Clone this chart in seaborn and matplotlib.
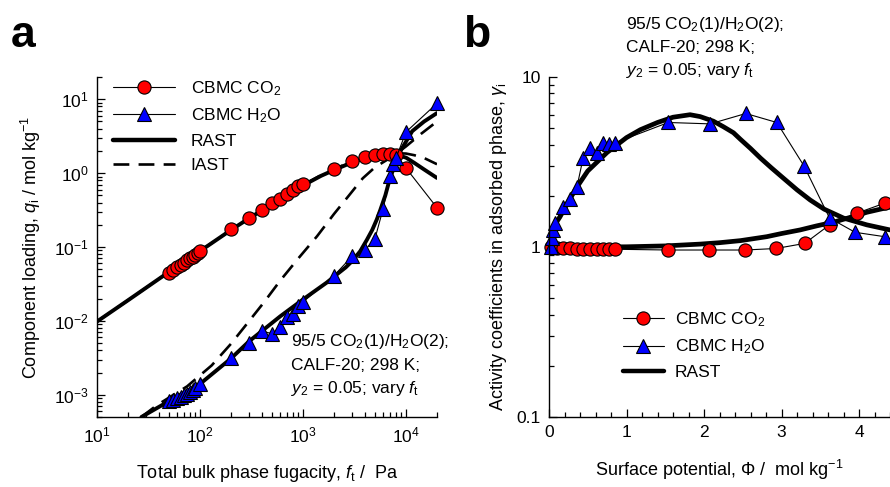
import numpy as np
import pandas as pd
import matplotlib
matplotlib.use("Agg")
import matplotlib.pyplot as plt
from matplotlib.lines import Line2D
from matplotlib.ticker import LogLocator, MultipleLocator, FixedLocator, FixedFormatter, NullFormatter
import seaborn as sns

# ---------------- Panel a data ----------------
co2_f = [50, 55, 60, 65, 70, 75, 80, 85, 90, 95, 100, 200, 300, 400, 500, 600, 700, 800, 900, 1000,
         2000, 3000, 4000, 5000, 6000, 7000, 8000, 10000, 20000]
co2_q = [0.045, 0.049, 0.053, 0.057, 0.061, 0.066, 0.070, 0.074, 0.078, 0.082, 0.087, 0.175, 0.245,
         0.32, 0.39, 0.44, 0.52, 0.59, 0.66, 0.71, 1.13, 1.45, 1.65, 1.75, 1.8, 1.8, 1.75, 1.17, 0.34]

h2o_f = [50, 55, 60, 65, 70, 75, 80, 85, 90, 100, 200, 300, 400, 500, 600, 700, 800, 900, 1000,
         2000, 3000, 4000, 5000, 6000, 7000, 7500, 8000, 10000, 20000]
h2o_q = [0.00082, 0.00086, 0.00090, 0.00094, 0.00098, 0.00103, 0.00110, 0.00116, 0.00122, 0.0014,
         0.0031, 0.005, 0.0073, 0.0067, 0.0083, 0.0113, 0.0125, 0.016, 0.018, 0.041, 0.075, 0.091,
         0.13, 0.33, 0.91, 1.32, 1.6, 3.6, 8.8]

rast_co2_f = [10, 20, 50, 100, 200, 300, 500, 700, 1000, 1500, 2000, 3000, 4000, 5000, 6000, 7000,
              8000, 10000, 12000, 15000, 20000]
rast_co2_q = [0.0098, 0.019, 0.046, 0.088, 0.17, 0.245, 0.38, 0.5, 0.68, 0.92, 1.1, 1.4, 1.6, 1.72,
              1.78, 1.8, 1.78, 1.62, 1.38, 1.12, 0.86]
iast_co2_f = [10, 20, 50, 100, 200, 300, 500, 700, 1000, 1500, 2000, 3000, 4000, 5000, 6000, 7000,
              8000, 10000, 12000, 15000, 20000]
iast_co2_q = [0.0098, 0.019, 0.046, 0.088, 0.17, 0.245, 0.38, 0.5, 0.69, 0.94, 1.13, 1.45, 1.65,
              1.76, 1.82, 1.85, 1.86, 1.84, 1.75, 1.6, 1.32]

rast_h2o_f = [27, 50, 100, 200, 300, 600, 1000, 1700, 2150, 2600, 3050, 3600, 4170, 4700, 5200,
              5600, 6300, 7000, 8800, 11500, 15000, 20000]
rast_h2o_q = [0.0005, 0.00082, 0.0014, 0.0031, 0.0053, 0.0115, 0.0195, 0.033, 0.043, 0.053, 0.066,
              0.088, 0.125, 0.17, 0.235, 0.31, 0.5, 0.86, 1.98, 3.7, 5.0, 6.5]
iast_h2o_f = [27, 38, 75, 130, 200, 285, 420, 600, 900, 1370, 2000, 2800, 3800, 5000, 7500, 10000,
              14000, 20000]
iast_h2o_q = [0.0005, 0.00072, 0.0013, 0.0025, 0.0049, 0.0091, 0.018, 0.035, 0.07, 0.14, 0.28, 0.5,
              0.85, 1.2, 1.7, 2.3, 3.4, 5.0]

# ---------------- Panel b data ----------------
g_co2_phi = [0.02, 0.1, 0.18, 0.27, 0.36, 0.44, 0.53, 0.62, 0.70, 0.77, 0.85, 1.54, 2.07, 2.53,
             2.93, 3.30, 3.62, 3.97, 4.33]
g_co2 = [1.0, 0.98, 0.98, 0.98, 0.975, 0.975, 0.97, 0.97, 0.97, 0.97, 0.97, 0.96, 0.96, 0.96,
         0.98, 1.05, 1.35, 1.58, 1.81]
g_h2o_phi = [0.02, 0.04, 0.05, 0.08, 0.18, 0.27, 0.36, 0.44, 0.53, 0.62, 0.70, 0.77, 0.85, 1.54,
             2.08, 2.54, 2.94, 3.29, 3.62, 3.95, 4.33]
g_h2o = [1.0, 1.13, 1.26, 1.38, 1.72, 1.92, 2.25, 3.33, 3.82, 3.57, 4.1, 4.03, 4.1, 5.4, 5.3, 6.1,
         5.4, 3.0, 1.48, 1.22, 1.15]
rast_g_co2_phi = [0.0, 0.5, 1.0, 1.5, 1.95, 2.2, 2.47, 2.81, 3.0, 3.24, 3.45, 3.67, 3.9, 4.1, 4.4]
rast_g_co2 = [1.0, 1.0, 1.003, 1.015, 1.04, 1.06, 1.09, 1.15, 1.2, 1.26, 1.33, 1.40, 1.5, 1.6, 1.72]
rast_g_h2o_phi = [0.0, 0.05, 0.14, 0.25, 0.36, 0.5, 0.75, 1.0, 1.18, 1.4, 1.6, 1.82, 1.95, 2.12,
                  2.25, 2.38, 2.47, 2.6, 2.73, 2.87, 3.02, 3.2, 3.37, 3.55, 3.8, 4.1, 4.4]
rast_g_h2o = [1.15, 1.3, 1.5, 1.85, 2.25, 2.8, 3.6, 4.4, 4.9, 5.4, 5.8, 6.0, 5.85, 5.5, 5.1, 4.7,
              4.3, 3.8, 3.33, 2.92, 2.55, 2.17, 1.89, 1.67, 1.48, 1.35, 1.26]

# ---------------- style ----------------
sns.set_theme(style="ticks")
plt.rcParams['font.family'] = ['Liberation Sans', 'DejaVu Sans']
plt.rcParams['mathtext.fontset'] = 'custom'
plt.rcParams['mathtext.rm'] = 'Liberation Sans'
plt.rcParams['mathtext.it'] = 'Liberation Sans:italic'
plt.rcParams['mathtext.bf'] = 'Liberation Sans:bold'
plt.rcParams['text.color'] = 'black'
plt.rcParams['axes.labelcolor'] = 'black'
FS = 12.5
LFS = 13

fig = plt.figure(figsize=(8.9, 4.87), dpi=100)
W, H = 890, 487
axa = fig.add_axes([97 / W, (H - 417) / H, (437 - 97) / W, (417 - 77) / H])
axb = fig.add_axes([549 / W, (H - 417) / H, (890 - 549) / W, (417 - 77) / H])

pt_kw = dict(color='black', lw=0.8, markersize=9.5, markeredgecolor='black',
             markeredgewidth=0.8, estimator=None, sort=False)
DASH = (0, (6, 3.5))


def draw(ax, x, y, **kw):
    sns.lineplot(x=x, y=y, ax=ax, **kw)


# Panel a
draw(axa, rast_co2_f, rast_co2_q, color='black', lw=2.8, estimator=None, sort=False)
draw(axa, iast_co2_f, iast_co2_q, color='black', lw=1.9, linestyle=DASH, estimator=None, sort=False)
draw(axa, rast_h2o_f, rast_h2o_q, color='black', lw=2.8, estimator=None, sort=False)
draw(axa, iast_h2o_f, iast_h2o_q, color='black', lw=1.9, linestyle=DASH, estimator=None, sort=False)
draw(axa, co2_f, co2_q, marker='o', markerfacecolor='red', clip_on=False, **pt_kw)
draw(axa, h2o_f, h2o_q, marker='^', markerfacecolor='blue', clip_on=False, **pt_kw)

axa.set_xscale('log')
axa.set_yscale('log')
axa.set_xlim(10, 2e4)
axa.set_ylim(5e-4, 20)

# Panel b
draw(axb, rast_g_co2_phi, rast_g_co2, color='black', lw=3.4, estimator=None, sort=False)
draw(axb, rast_g_h2o_phi, rast_g_h2o, color='black', lw=3.4, estimator=None, sort=False)
draw(axb, g_co2_phi, g_co2, marker='o', markerfacecolor='red', clip_on=False, **pt_kw)
draw(axb, g_h2o_phi, g_h2o, marker='^', markerfacecolor='blue', clip_on=False, **pt_kw)
axb.set_yscale('log')
axb.set_xlim(0, 4.4)
axb.set_ylim(0.1, 10)
axb.xaxis.set_major_locator(MultipleLocator(1))
axb.xaxis.set_minor_locator(MultipleLocator(0.2))
axb.yaxis.set_major_locator(FixedLocator([0.1, 1, 10]))
axb.yaxis.set_major_formatter(FixedFormatter(['0.1', '1', '10']))
axb.yaxis.set_minor_locator(LogLocator(base=10, subs=np.arange(2, 10)))
axb.yaxis.set_minor_formatter(NullFormatter())

for ax in (axa, axb):
    sns.despine(ax=ax)
    ax.spines['left'].set_linewidth(1.0)
    ax.spines['bottom'].set_linewidth(1.0)
    ax.tick_params(which='both', direction='in', colors='black', labelsize=FS, width=0.9)
    ax.tick_params(which='major', length=6, pad=6)
    ax.tick_params(which='minor', length=3.5)
    for sp in ax.spines.values():
        sp.set_color('black')

axa.set_xlabel(r'Total bulk phase fugacity, $f_\mathrm{t}$ /  Pa', fontsize=LFS, labelpad=13)
axa.set_ylabel(r'Component loading, $q_\mathrm{i}$ / mol kg$^{-1}$', fontsize=LFS, labelpad=8)
axb.set_xlabel(r'Surface potential, $\Phi$ /  mol kg$^{-1}$', fontsize=LFS, labelpad=13)
axb.set_ylabel(r'Activity coefficients in adsorbed phase, $\gamma_\mathrm{i}$', fontsize=LFS, labelpad=5)

# Legends
h_co2 = Line2D([], [], color='black', lw=0.8, marker='o', markersize=9.5, markerfacecolor='red',
               markeredgecolor='black', markeredgewidth=0.8)
h_h2o = Line2D([], [], color='black', lw=0.8, marker='^', markersize=9.5, markerfacecolor='blue',
               markeredgecolor='black', markeredgewidth=0.8)
h_rast = Line2D([], [], color='black', lw=3.2)
h_iast = Line2D([], [], color='black', lw=1.9, linestyle=DASH)
axa.legend([h_co2, h_h2o, h_rast, h_iast],
           ['CBMC CO$_2$', 'CBMC H$_2$O', 'RAST', 'IAST'],
           loc='upper left', bbox_to_anchor=(0.0, 1.04), frameon=False, fontsize=FS,
           handlelength=3.6, handletextpad=0.9, labelspacing=0.5)
axb.legend([h_co2, h_h2o, h_rast],
           ['CBMC CO$_2$', 'CBMC H$_2$O', 'RAST'],
           loc='upper left', bbox_to_anchor=(0.17, 0.36), frameon=False, fontsize=FS,
           handlelength=2.4, handletextpad=0.6, labelspacing=0.5)

# Annotations
lines = ['95/5 CO$_2$(1)/H$_2$O(2);', 'CALF-20; 298 K;', r'$y_2$ = 0.05; vary $f_\mathrm{t}$']
for txt, yb in zip(lines, [346, 370, 393]):
    fig.text(291 / W, 1 - yb / H, txt, fontsize=FS, va='baseline', ha='left')
for txt, yb in zip(lines, [29, 52, 75]):
    fig.text(626 / W, 1 - yb / H, txt, fontsize=FS, va='baseline', ha='left')

fig.text(11 / W, 1 - 47 / H, 'a', fontsize=32, fontweight='bold', va='baseline', ha='left')
fig.text(463 / W, 1 - 47 / H, 'b', fontsize=32, fontweight='bold', va='baseline', ha='left')

fig.savefig('out.png', dpi=100)
